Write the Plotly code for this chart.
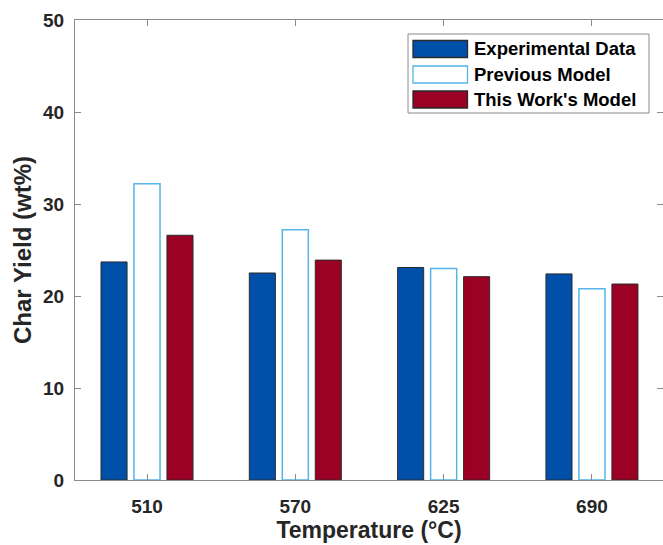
import plotly.graph_objects as go

categories = ["510", "570", "625", "690"]
experimental = [23.7, 22.5, 23.1, 22.4]
previous_model = [32.2, 27.2, 23.0, 20.8]
this_work = [26.6, 23.9, 22.1, 21.3]
series_names = ["Experimental Data", "Previous Model", "This Work's Model"]
y_ticks = [0, 10, 20, 30, 40, 50]

xpos = [1, 2, 3, 4]

W, H = 663, 545
L, R, T, B = 75, 0, 20, 65
FONT = "Liberation Sans, Arial, Helvetica, sans-serif"
TXT = "#262626"
AX = "#8a8a8a"

BLUE = "#0050AA"
RED = "#9B0025"
LBLUE = "#56B4E9"

fig = go.Figure()
fig.add_trace(go.Bar(x=xpos, y=experimental, name=series_names[0],
                     marker=dict(color=BLUE, line=dict(color="#2a2a2a", width=1)),
                     showlegend=False))
fig.add_trace(go.Bar(x=xpos, y=previous_model, name=series_names[1],
                     marker=dict(color="white", line=dict(color=LBLUE, width=1.5)),
                     showlegend=False))
fig.add_trace(go.Bar(x=xpos, y=this_work, name=series_names[2],
                     marker=dict(color=RED, line=dict(color="#2a2a2a", width=1)),
                     showlegend=False))
# dummy trace for right-side mirrored ticks
fig.add_trace(go.Scatter(x=[None], y=[None], yaxis="y2", showlegend=False,
                         hoverinfo="skip"))

pw = W - L - R
ph = H - T - B

def px(xp):
    return (xp - L) / pw

def py(yp):
    return 1 - (yp - T) / ph

# manual legend (MATLAB style)
shapes = []
annotations = []
shapes.append(dict(type="rect", xref="paper", yref="paper",
                   x0=px(408), x1=px(649), y0=py(113), y1=py(34),
                   line=dict(color="#8a8a8a", width=1), fillcolor="white", layer="above"))
leg_styles = [
    dict(fill=BLUE, line="#2a2a2a"),
    dict(fill="white", line=LBLUE),
    dict(fill=RED, line="#2a2a2a"),
]
row_y = [49, 74.5, 99.5]
for name, st, yc in zip(series_names, leg_styles, row_y):
    shapes.append(dict(type="rect", xref="paper", yref="paper",
                       x0=px(413), x1=px(467.5), y0=py(yc + 8.5), y1=py(yc - 8.5),
                       line=dict(color=st["line"], width=1.3), fillcolor=st["fill"],
                       layer="above"))
    annotations.append(dict(xref="paper", yref="paper", x=px(472), y=py(yc),
                            text=name, showarrow=False, xanchor="left", yanchor="middle",
                            font=dict(family=FONT, size=18.5, color="black", weight="bold")))

fig.update_layout(
    width=W, height=H,
    margin=dict(l=L, r=R, t=T, b=B, pad=0),
    paper_bgcolor="white", plot_bgcolor="white",
    barmode="group", bargap=0.333, bargroupgap=0.21,
    font=dict(family=FONT, color=TXT),
    shapes=shapes, annotations=annotations,
    xaxis=dict(
        range=[0.5145, 4.479], tickmode="array", tickvals=xpos, ticktext=categories,
        showline=True, linecolor=AX, linewidth=1, mirror="ticks",
        ticks="inside", ticklen=6, tickcolor=AX, showgrid=False, zeroline=False,
        ticklabelstandoff=9,
        tickfont=dict(family=FONT, size=19, color=TXT, weight="bold"),
        title=dict(text="Temperature (°C)", standoff=6,
                   font=dict(family=FONT, size=23, color=TXT, weight="bold")),
    ),
    yaxis=dict(
        range=[0, 50], tickmode="array", tickvals=y_ticks,
        showline=True, linecolor=AX, linewidth=1,
        ticks="inside", ticklen=6, tickcolor=AX, showgrid=False, zeroline=False,
        ticklabelstandoff=6,
        tickfont=dict(family=FONT, size=19, color=TXT, weight="bold"),
        title=dict(text="Char Yield (wt%)", standoff=4,
                   font=dict(family=FONT, size=24, color=TXT, weight="bold")),
    ),
    yaxis2=dict(
        range=[0, 50], overlaying="y", side="right", tickmode="array", tickvals=y_ticks,
        showline=False, ticks="inside", ticklen=6, tickcolor=AX,
        showticklabels=False, showgrid=False, zeroline=False,
    ),
)

fig.write_html("out.html")
